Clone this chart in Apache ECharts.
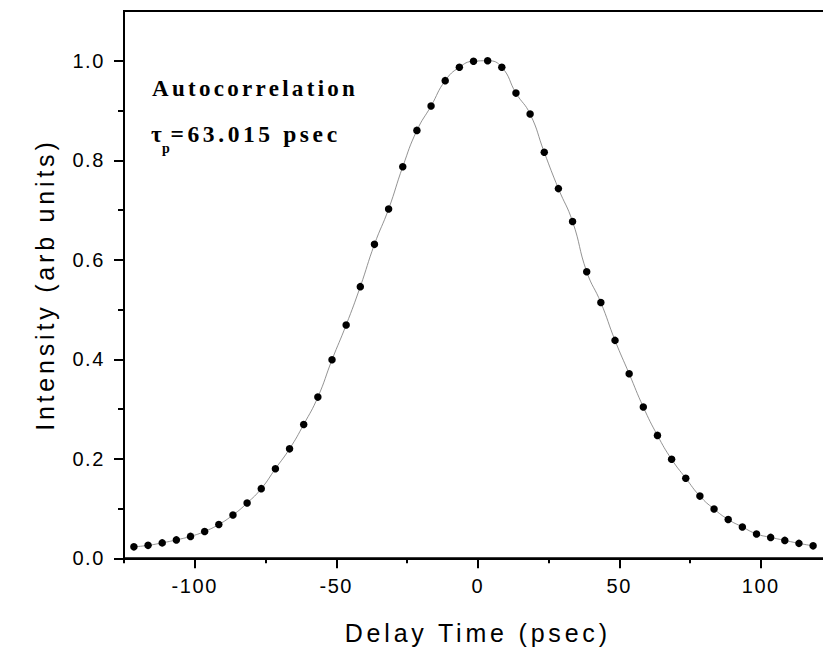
<!DOCTYPE html>
<html><head><meta charset="utf-8">
<script src="https://cdn.jsdelivr.net/npm/echarts@6/dist/echarts.min.js"></script>
<style>
html,body{margin:0;padding:0;background:#fff}
#chart{width:823px;height:651px}
#chart svg text[style*="20px"]{letter-spacing:1.6px}
#chart svg text[style*="25px"]{letter-spacing:3.8px}
#chart svg text[style*="23px"]{letter-spacing:3.3px}
#chart svg text[style*="23.5px"]{letter-spacing:3.6px}
</style></head>
<body><div id="chart"></div>
<script>
const delayTime = [-121.5,-116.5,-111.5,-106.5,-101.5,-96.5,-91.5,-86.5,-81.5,-76.5,
  -71.5,-66.5,-61.5,-56.5,-51.5,-46.5,-41.5,-36.5,-31.5,-26.5,
  -21.5,-16.5,-11.5,-6.5,-1.5,3.5,8.5,13.5,18.5,23.5,
  28.5,33.5,38.5,43.5,48.5,53.5,58.5,63.5,68.5,73.5,
  78.5,83.5,88.5,93.5,98.5,103.5,108.5,113.5,118.5];
const intensity = [0.023,0.026,0.031,0.037,0.044,0.054,0.068,0.087,0.111,0.140,
  0.180,0.220,0.269,0.324,0.399,0.469,0.546,0.631,0.702,0.787,
  0.860,0.909,0.960,0.987,0.999,1.000,0.987,0.935,0.893,0.816,
  0.743,0.677,0.576,0.514,0.438,0.371,0.304,0.247,0.199,0.161,
  0.125,0.099,0.078,0.063,0.049,0.042,0.036,0.030,0.025];
const xTickValues = [-100,-50,0,50,100];
const xMinorTickValues = [-125,-75,-25,25,75];
const yTickValues = [0,0.2,0.4,0.6,0.8,1.0];
const yMinorTickValues = [0.1,0.3,0.5,0.7,0.9];
const xName = 'Delay Time (psec)';
const yName = 'Intensity (arb units)';
const noteTitle = 'Autocorrelation';
const noteTau = 'τ';
const noteTauSub = 'p';
const noteTauValue = '=63.015 psec';

const chart = echarts.init(document.getElementById('chart'), null, {renderer:'svg'});
const labelFont = {fontFamily:'Liberation Sans', fontSize:20, color:'#000'};
const nameFont = {fontFamily:'Liberation Sans', fontSize:25, color:'#000'};
chart.setOption({
  animation:false,
  backgroundColor:'#fff',
  grid:{left:124, top:11, right:-8.5, bottom:92.7, outerBoundsMode:'none', containLabel:false,
    show:true, borderColor:'#000', borderWidth:2, backgroundColor:'transparent'},
  xAxis:[{
    type:'value', min:-125, max:125, position:'bottom',
    name:xName, nameLocation:'middle', nameGap:62, nameTextStyle:nameFont,
    axisLine:{onZero:false, lineStyle:{color:'#000', width:2}},
    axisTick:{customValues:xTickValues, length:10, lineStyle:{color:'#000', width:2}},
    axisLabel:{customValues:xTickValues, margin:18, ...labelFont},
    splitLine:{show:false}
  },{
    type:'value', min:-125, max:125, position:'bottom',
    axisLine:{show:false, onZero:false},
    axisTick:{customValues:xMinorTickValues, length:5, lineStyle:{color:'#000', width:2}},
    axisLabel:{show:false}, splitLine:{show:false}
  }],
  yAxis:[{
    type:'value', min:0, max:1.1, position:'left',
    name:yName, nameLocation:'middle', nameGap:67, nameTextStyle:nameFont,
    axisLine:{show:true, onZero:false, lineStyle:{color:'#000', width:2}},
    axisTick:{show:true, customValues:yTickValues, length:10, lineStyle:{color:'#000', width:2}},
    axisLabel:{customValues:yTickValues, margin:19, formatter:v=>v.toFixed(1), padding:[0,0,6,0], ...labelFont},
    splitLine:{show:false}
  },{
    type:'value', min:0, max:1.1, position:'left',
    axisLine:{show:false, onZero:false},
    axisTick:{show:true, customValues:yMinorTickValues, length:6, lineStyle:{color:'#000', width:2}},
    axisLabel:{show:false}, splitLine:{show:false}
  }],
  series:[{
    type:'line', xAxisIndex:0, yAxisIndex:0,
    data:delayTime.map((x,i)=>[x,intensity[i]]),
    smooth:true, showAllSymbol:true,
    symbol:'circle', symbolSize:7.5,
    itemStyle:{color:'#000'},
    lineStyle:{color:'#777', width:0.8}
  }],
  graphic:[{
    type:'text', x:152, y:88.7,
    style:{text:noteTitle, font:'bold 23px "Liberation Serif"', fill:'#000', verticalAlign:'middle'}
  },{
    type:'text', x:151, y:134.2,
    style:{text:noteTau, font:'bold 23.4px "Liberation Serif"', fill:'#000', verticalAlign:'middle'}
  },{
    type:'text', x:162, y:148.5,
    style:{text:noteTauSub, font:'bold 14px "Liberation Serif"', fill:'#000', verticalAlign:'middle'}
  },{
    type:'text', x:170.5, y:134.2,
    style:{text:noteTauValue, font:'bold 23.5px "Liberation Serif"', fill:'#000', verticalAlign:'middle'}
  }]
});
</script>
</body></html>
